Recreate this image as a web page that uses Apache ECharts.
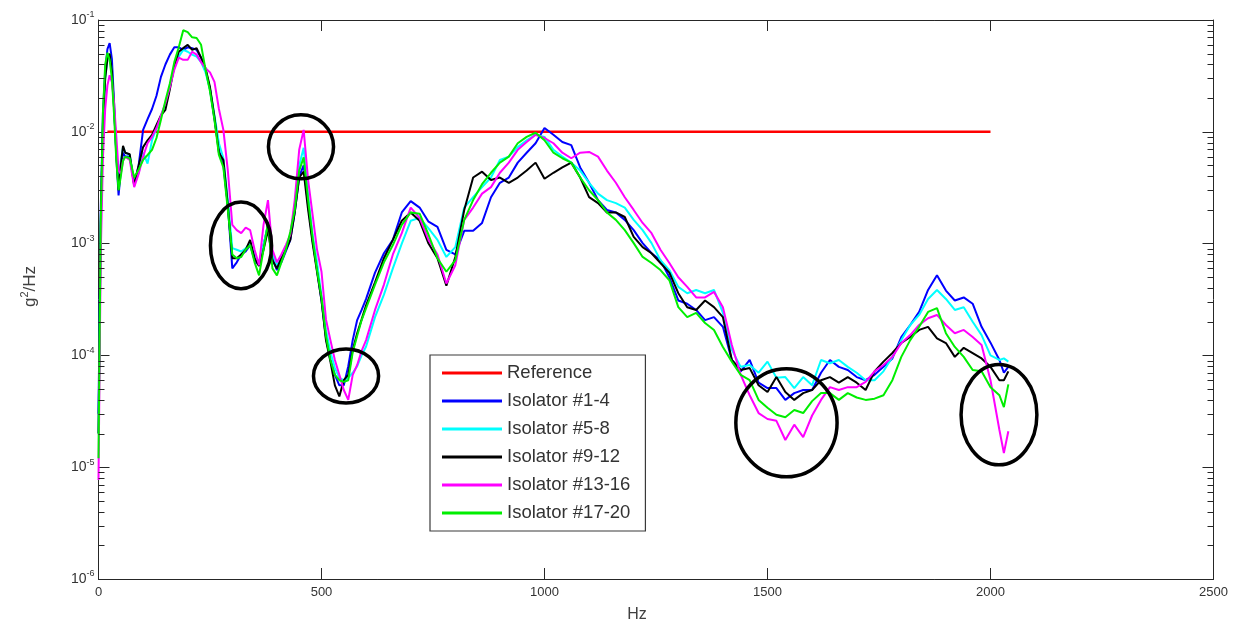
<!DOCTYPE html>
<html>
<head>
<meta charset="utf-8">
<title>Isolator PSD</title>
<script src="https://cdn.jsdelivr.net/npm/echarts@6/dist/echarts.min.js"></script>
<style>
  html, body { margin: 0; padding: 0; background: #ffffff; }
  #chart { width: 1241px; height: 619px; }
</style>
</head>
<body>
<div id="chart"></div>
<script>
// Frequency grid shared by the five isolator measurements (Hz)
const freqHz = [
  0, 5, 10, 15, 20, 25, 30, 35, 40, 45, 50, 55, 60,
  70, 80, 90, 100, 110, 120, 130, 140, 150, 160,
  170, 180, 190, 200, 210, 220, 230, 240, 250, 260,
  270, 280, 290, 300, 310, 320, 330, 340, 350, 360,
  370, 380, 390, 400, 410, 420, 430, 440, 450, 460,
  470, 480, 490, 500, 510, 520, 530, 540, 550, 560,
  570, 580, 590, 600,
  620, 640, 660, 680, 700, 720, 740, 760, 780, 800,
  820, 840, 860, 880, 900, 920, 940, 960, 980, 1000,
  1020, 1040, 1060, 1080, 1100, 1120, 1140, 1160, 1180, 1200,
  1220, 1240, 1260, 1280, 1300, 1320, 1340, 1360, 1380, 1400,
  1420, 1440, 1460, 1480, 1500, 1520, 1540, 1560, 1580, 1600,
  1620, 1640, 1660, 1680, 1700, 1720, 1740, 1760, 1780, 1800,
  1820, 1840, 1860, 1880, 1900, 1920, 1940, 1960, 1980, 2000,
  2020, 2030, 2040
];

// PSD, g^2/Hz
const isolator1to4 = [
  3e-5, 2e-3, 1.5e-2, 3.5e-2, 5.5e-2, 6.2e-2, 4.5e-2, 1.8e-2, 6e-3, 2.7e-3, 4.5e-3, 6.5e-3, 6e-3,
  6.0e-3, 3.4e-3, 5.0e-3, 1.04e-2, 1.3e-2, 1.6e-2, 2.1e-2, 3.1e-2, 4.0e-2, 4.9e-2,
  5.7e-2, 5.7e-2, 5.4e-2, 5.7e-2, 5.6e-2, 5.4e-2, 4.6e-2, 3.6e-2, 2.4e-2, 1.3e-2,
  6.9e-3, 5.0e-3, 2.2e-3, 6.0e-4, 6.8e-4, 8.0e-4, 8.5e-4, 9.7e-4, 7.1e-4, 6.4e-4,
  9.7e-4, 1.47e-3, 7.4e-4, 5.8e-4, 6.8e-4, 8.5e-4, 1.08e-3, 1.9e-3, 4.0e-3, 5.0e-3,
  2.2e-3, 1.08e-3, 5.8e-4, 3.1e-4, 1.44e-4, 9.1e-5, 6.7e-5, 5.4e-5, 5.4e-5, 8.0e-5,
  1.37e-4, 2.07e-4, 2.55e-4, 3.2e-4,
  5.5e-4, 8.2e-4, 1.08e-3, 1.9e-3, 2.4e-3, 2.1e-3, 1.57e-3, 1.41e-3, 8.8e-4, 8.0e-4,
  1.3e-3, 1.3e-3, 1.53e-3, 2.6e-3, 3.5e-3, 3.9e-3, 5.3e-3, 6.5e-3, 7.9e-3, 1.08e-2,
  9.4e-3, 8.1e-3, 7.6e-3, 4.8e-3, 3.5e-3, 2.45e-3, 2.0e-3, 1.9e-3, 1.63e-3, 1.32e-3,
  1.01e-3, 8.2e-4, 7.1e-4, 5.0e-4, 3.1e-4, 2.9e-4, 2.55e-4, 2.07e-4, 2.2e-4, 1.8e-4,
  9.1e-5, 7.2e-5, 9.1e-5, 5.7e-5, 5.1e-5, 5.1e-5, 4.0e-5, 4.6e-5, 4.9e-5, 4.9e-5,
  7.0e-5, 9.1e-5, 7.9e-5, 7.4e-5, 6.4e-5, 6.0e-5, 6.7e-5, 7.9e-5, 9.4e-5, 1.46e-4,
  1.87e-4, 2.45e-4, 3.85e-4, 5.2e-4, 3.8e-4, 3.1e-4, 3.3e-4, 2.9e-4, 1.8e-4, 1.3e-4,
  9.1e-5, 7.0e-5, 7.9e-5
];

const isolator5to8 = [
  2e-5, 1.5e-3, 1.2e-2, 3e-2, 4.5e-2, 5e-2, 3.5e-2, 1.6e-2, 6.5e-3, 3.2e-3, 5.5e-3, 7.3e-3, 6.5e-3,
  6.2e-3, 3.6e-3, 4.3e-3, 6.5e-3, 5.2e-3, 8.4e-3, 1.08e-2, 1.4e-2, 1.75e-2, 2.5e-2,
  3.8e-2, 4.7e-2, 5.4e-2, 5.2e-2, 4.9e-2, 4.7e-2, 4.2e-2, 3.4e-2, 2.4e-2, 1.4e-2,
  7.9e-3, 5.8e-3, 2.45e-3, 9.1e-4, 8.8e-4, 8.5e-4, 9.1e-4, 1.01e-3, 8.0e-4, 6.8e-4,
  9.7e-4, 1.47e-3, 8.0e-4, 6.4e-4, 7.4e-4, 9.1e-4, 1.15e-3, 2.2e-3, 5.0e-3, 7.2e-3,
  2.7e-3, 1.2e-3, 6.8e-4, 3.4e-4, 1.69e-4, 1.07e-4, 7.7e-5, 6.3e-5, 6.0e-5, 6.3e-5,
  7.0e-5, 8.0e-5, 1.0e-4, 1.2e-4,
  2.2e-4, 3.5e-4, 6.0e-4, 1.0e-3, 1.6e-3, 1.7e-3, 1.37e-3, 1.08e-3, 7.6e-4, 9.3e-4,
  2.1e-3, 2.6e-3, 3.2e-3, 3.9e-3, 5.6e-3, 6.0e-3, 7.3e-3, 8.4e-3, 9.4e-3, 9.0e-3,
  6.9e-3, 6.0e-3, 5.3e-3, 4.5e-3, 3.5e-3, 2.8e-3, 2.45e-3, 2.3e-3, 2.1e-3, 1.63e-3,
  1.32e-3, 1.01e-3, 7.1e-4, 5.8e-4, 4.1e-4, 3.6e-4, 3.85e-4, 3.6e-4, 3.85e-4, 2.4e-4,
  1.12e-4, 7.9e-5, 8.2e-5, 7.0e-5, 8.8e-5, 6.3e-5, 6.4e-5, 5.1e-5, 6.4e-5, 5.4e-5,
  9.1e-5, 8.5e-5, 9.1e-5, 7.9e-5, 7.0e-5, 6.0e-5, 6.0e-5, 7.2e-5, 9.7e-5, 1.37e-4,
  1.87e-4, 2.3e-4, 3.2e-4, 3.85e-4, 3.2e-4, 2.55e-4, 2.7e-4, 2.0e-4, 1.52e-4, 1.0e-4,
  9.1e-5, 9.4e-5, 8.8e-5
];

const isolator9to12 = [
  2e-5, 1.5e-3, 1.2e-2, 3e-2, 4.5e-2, 5e-2, 3.5e-2, 1.6e-2, 6.5e-3, 3.0e-3, 5.0e-3, 7.5e-3, 6.5e-3,
  6.3e-3, 3.3e-3, 5.0e-3, 7.3e-3, 8.4e-3, 9.4e-3, 1.15e-2, 1.4e-2, 1.57e-2, 2.4e-2,
  3.9e-2, 5.2e-2, 5.6e-2, 6.0e-2, 5.4e-2, 5.6e-2, 4.6e-2, 3.7e-2, 2.5e-2, 1.35e-2,
  6.5e-3, 5.6e-3, 2.2e-3, 7.4e-4, 7.4e-4, 8.0e-4, 8.8e-4, 1.08e-3, 7.4e-4, 6.3e-4,
  8.8e-4, 1.32e-3, 7.1e-4, 6.0e-4, 7.4e-4, 8.8e-4, 1.08e-3, 1.9e-3, 3.9e-3, 4.4e-3,
  2.0e-3, 1.01e-3, 5.6e-4, 3.1e-4, 1.37e-4, 8.8e-5, 5.4e-5, 4.3e-5, 6.0e-5, 6.7e-5,
  1.12e-4, 1.58e-4, 2.1e-4, 2.8e-4,
  4.5e-4, 7.4e-4, 1.08e-3, 1.6e-3, 1.9e-3, 1.6e-3, 1.0e-3, 7.4e-4, 4.2e-4, 7.6e-4,
  2.0e-3, 3.9e-3, 4.4e-3, 3.7e-3, 3.9e-3, 3.5e-3, 3.9e-3, 4.5e-3, 5.3e-3, 3.8e-3,
  4.3e-3, 4.8e-3, 5.3e-3, 3.9e-3, 2.6e-3, 2.3e-3, 1.9e-3, 1.9e-3, 1.73e-3, 1.15e-3,
  9.3e-4, 8.2e-4, 6.7e-4, 5.5e-4, 3.6e-4, 2.7e-4, 2.55e-4, 3.1e-4, 2.7e-4, 2.2e-4,
  9.1e-5, 7.4e-5, 7.7e-5, 5.4e-5, 4.7e-5, 6.4e-5, 4.7e-5, 4.0e-5, 4.6e-5, 4.9e-5,
  6.0e-5, 6.4e-5, 5.7e-5, 6.4e-5, 5.7e-5, 4.9e-5, 7.2e-5, 8.8e-5, 1.05e-4, 1.29e-4,
  1.46e-4, 1.69e-4, 1.8e-4, 1.42e-4, 1.29e-4, 9.7e-5, 1.17e-4, 1.05e-4, 9.4e-5, 7.9e-5,
  6.0e-5, 6.0e-5, 7.2e-5
];

const isolator13to16 = [
  7.7e-6, 8e-4, 6e-3, 1.6e-2, 2.6e-2, 3.2e-2, 2.8e-2, 1.8e-2, 9e-3, 4.5e-3, 4.2e-3, 5.5e-3, 6e-3,
  5.6e-3, 3.2e-3, 4.2e-3, 6.0e-3, 7.9e-3, 9.0e-3, 1.08e-2, 1.4e-2, 1.8e-2, 2.5e-2,
  3.6e-2, 4.6e-2, 4.4e-2, 4.4e-2, 5.2e-2, 4.9e-2, 4.2e-2, 3.7e-2, 3.4e-2, 2.8e-2,
  1.6e-2, 1.04e-2, 4.5e-3, 1.47e-3, 1.32e-3, 1.24e-3, 1.39e-3, 1.32e-3, 8.8e-4, 6.4e-4,
  1.47e-3, 2.45e-3, 8.8e-4, 6.8e-4, 8.0e-4, 9.7e-4, 1.2e-3, 2.45e-3, 6.9e-3, 1.04e-2,
  3.7e-3, 1.82e-3, 8.8e-4, 5.6e-4, 2.1e-4, 1.37e-4, 9.1e-5, 6.7e-5, 4.9e-5, 4.0e-5,
  6.7e-5, 8.2e-5, 1.1e-4, 1.37e-4,
  2.55e-4, 4.3e-4, 8.0e-4, 1.24e-3, 2.1e-3, 1.7e-3, 1.08e-3, 8.0e-4, 4.4e-4, 6.4e-4,
  1.63e-3, 2.1e-3, 2.8e-3, 3.2e-3, 4.3e-3, 5.3e-3, 6.9e-3, 8.1e-3, 9.4e-3, 8.8e-3,
  7.9e-3, 6.5e-3, 5.8e-3, 6.5e-3, 6.6e-3, 6.0e-3, 4.5e-3, 3.5e-3, 2.6e-3, 2.0e-3,
  1.53e-3, 1.24e-3, 8.8e-4, 6.7e-4, 5.0e-4, 4.1e-4, 3.3e-4, 3.3e-4, 3.7e-4, 2.7e-4,
  1.24e-4, 6.7e-5, 4.4e-5, 3.05e-5, 2.7e-5, 2.6e-5, 1.75e-5, 2.4e-5, 1.86e-5, 2.9e-5,
  4.0e-5, 5.2e-5, 4.9e-5, 5.2e-5, 5.2e-5, 5.8e-5, 7.2e-5, 8.2e-5, 9.7e-5, 1.29e-4,
  1.52e-4, 1.87e-4, 2.15e-4, 2.3e-4, 1.87e-4, 1.58e-4, 1.69e-4, 1.46e-4, 1.24e-4, 6.0e-5,
  2.15e-5, 1.34e-5, 2.1e-5
];

const isolator17to20 = [
  1.2e-5, 1.5e-3, 1.5e-2, 4e-2, 5.1e-2, 4.4e-2, 3e-2, 1.4e-2, 5.5e-3, 3.0e-3, 4.0e-3, 5.5e-3, 6.0e-3,
  5.8e-3, 3.9e-3, 4.6e-3, 5.6e-3, 6.2e-3, 6.9e-3, 8.8e-3, 1.28e-2, 1.9e-2, 2.7e-2,
  4.2e-2, 5.7e-2, 8.1e-2, 7.8e-2, 7.0e-2, 6.9e-2, 6.0e-2, 3.6e-2, 2.3e-2, 1.28e-2,
  6.2e-3, 4.8e-3, 2.0e-3, 8.0e-4, 7.4e-4, 7.6e-4, 8.8e-4, 9.7e-4, 6.8e-4, 5.2e-4,
  8.8e-4, 1.55e-3, 6.0e-4, 5.2e-4, 6.8e-4, 8.8e-4, 1.27e-3, 2.0e-3, 4.5e-3, 5.9e-3,
  2.45e-3, 1.13e-3, 5.8e-4, 3.3e-4, 1.5e-4, 9.1e-5, 6.7e-5, 6.0e-5, 5.8e-5, 6.0e-5,
  1.07e-4, 1.5e-4, 2.07e-4, 2.65e-4,
  4.3e-4, 6.8e-4, 9.7e-4, 1.47e-3, 1.9e-3, 1.85e-3, 1.2e-3, 7.4e-4, 5.6e-4, 7.1e-4,
  1.63e-3, 2.45e-3, 3.4e-3, 4.3e-3, 5.3e-3, 6.0e-3, 7.9e-3, 9.0e-3, 9.8e-3, 8.4e-3,
  6.5e-3, 5.8e-3, 5.3e-3, 3.9e-3, 3.0e-3, 2.45e-3, 1.9e-3, 1.63e-3, 1.32e-3, 1.01e-3,
  7.6e-4, 6.7e-4, 5.8e-4, 4.7e-4, 2.7e-4, 2.2e-4, 2.4e-4, 1.95e-4, 1.69e-4, 1.19e-4,
  8.8e-5, 6.7e-5, 6.0e-5, 4.0e-5, 3.4e-5, 2.95e-5, 2.8e-5, 3.25e-5, 3.05e-5, 3.9e-5,
  4.6e-5, 4.6e-5, 4.0e-5, 4.6e-5, 4.2e-5, 4.0e-5, 4.1e-5, 4.4e-5, 6.0e-5, 9.7e-5,
  1.37e-4, 1.8e-4, 2.45e-4, 2.65e-4, 1.58e-4, 1.19e-4, 9.7e-5, 7.4e-5, 7.2e-5, 5.2e-5,
  4.4e-5, 3.45e-5, 5.5e-5
];

// Reference level (flat 0.01 g^2/Hz, 20-2000 Hz)
const referenceHz = [20, 2000];
const referenceLevel = [0.01, 0.01];

// Highlighted regions: frequency span and PSD span of each ring
const ringHzFrom = [251, 381, 482, 1429, 1934];
const ringHzTo   = [388, 527, 628, 1656, 2104];
const ringTop    = [2.35e-3, 1.42e-2, 1.14e-4, 7.6e-5, 8.3e-5];
const ringBottom = [3.95e-4, 3.8e-3, 3.75e-5, 8.2e-6, 1.05e-5];

// Log-axis decades and the minor tick mantissas inside each decade
const decadeStarts = [1e-6, 1e-5, 1e-4, 1e-3, 1e-2];
const minorMantissas = [2, 3, 4, 5, 6, 7, 8, 9];

const seriesNames = ['Reference', 'Isolator #1-4', 'Isolator #5-8', 'Isolator #9-12', 'Isolator #13-16', 'Isolator #17-20'];
const seriesColors = ['#ff0000', '#0000ff', '#00ffff', '#000000', '#ff00ff', '#00ee00'];

const FONT = '"Liberation Sans", Arial, Helvetica, sans-serif';
const AXIS_COLOR = '#262626';
const LABEL_COLOR = '#333333';
const MINOR_TICK_LEN = 6;

function pairs(xs, ys) {
  return xs.map((x, i) => [x, ys[i]]);
}

const isolatorData = [isolator1to4, isolator5to8, isolator9to12, isolator13to16, isolator17to20];

// minor tick values (2..9 x 10^n) on the PSD axis
const minorTickValues = [];
decadeStarts.forEach(d => minorMantissas.forEach(m => minorTickValues.push(m * d)));

const chart = echarts.init(document.getElementById('chart'), null, { renderer: 'canvas' });

const lineSeries = [
  {
    name: seriesNames[0],
    type: 'line',
    data: pairs(referenceHz, referenceLevel),
    symbol: 'none',
    lineStyle: { color: seriesColors[0], width: 2.5 },
    itemStyle: { color: seriesColors[0] },
    z: 2
  }
].concat(isolatorData.map((vals, k) => ({
  name: seriesNames[k + 1],
  type: 'line',
  data: pairs(freqHz, vals),
  symbol: 'none',
  lineStyle: { color: seriesColors[k + 1], width: 2 },
  itemStyle: { color: seriesColors[k + 1] },
  z: 3
})));

const ringSeries = {
  type: 'custom',
  name: 'rings',
  coordinateSystem: 'cartesian2d',
  silent: true,
  z: 6,
  encode: { x: [0, 1], y: [2, 3] },
  data: ringHzFrom.map((f, i) => [f, ringHzTo[i], ringTop[i], ringBottom[i]]),
  renderItem: function (params, api) {
    const a = api.coord([api.value(0), api.value(2)]);
    const b = api.coord([api.value(1), api.value(3)]);
    return {
      type: 'ellipse',
      shape: {
        cx: (a[0] + b[0]) / 2,
        cy: (a[1] + b[1]) / 2,
        rx: Math.abs(b[0] - a[0]) / 2,
        ry: Math.abs(b[1] - a[1]) / 2
      },
      style: { fill: 'none', stroke: '#000000', lineWidth: 3.5 }
    };
  }
};

// Minor ticks of the log PSD axis, on both the left and right frame edges
const minorTickSeries = {
  type: 'custom',
  name: 'minorTicks',
  coordinateSystem: 'cartesian2d',
  silent: true,
  z: 7,
  encode: { x: 0, y: 1 },
  data: minorTickValues.map(v => [0, v]),
  renderItem: function (params, api) {
    const cs = params.coordSys;
    const y = Math.round(api.coord([0, api.value(1)])[1]) + 0.5;
    const left = cs.x;
    const right = cs.x + cs.width;
    return {
      type: 'group',
      children: [
        { type: 'line', shape: { x1: left, y1: y, x2: left + MINOR_TICK_LEN, y2: y }, style: { stroke: AXIS_COLOR, lineWidth: 1 } },
        { type: 'line', shape: { x1: right - MINOR_TICK_LEN, y1: y, x2: right, y2: y }, style: { stroke: AXIS_COLOR, lineWidth: 1 } }
      ]
    };
  }
};

const yLabelRich = {
  b: { fontSize: 14, color: LABEL_COLOR, fontFamily: FONT },
  s: { fontSize: 9, color: LABEL_COLOR, fontFamily: FONT, padding: [0, 0, 10, 0] }
};

const logAxisBase = {
  type: 'log',
  logBase: 10,
  min: 1e-6,
  max: 1e-1,
  splitLine: { show: false },
  axisLine: { show: true, onZero: false, lineStyle: { color: AXIS_COLOR, width: 1 } },
  axisTick: { show: true, inside: true, length: 11, lineStyle: { color: AXIS_COLOR } },
  minorTick: { show: false }
};

const option = {
  backgroundColor: '#ffffff',
  animation: false,
  grid: { left: 98.5, right: 27.5, top: 20, bottom: 40, containLabel: false, outerBoundsMode: 'none' },
  legend: {
    data: seriesNames,
    orient: 'vertical',
    left: 430,
    top: 355,
    padding: [8, 15, 8, 12],
    itemWidth: 60,
    itemHeight: 14,
    itemGap: 8,
    icon: 'path://M0,0H60V3H0Z',
    backgroundColor: '#ffffff',
    borderColor: '#3a3a3a',
    borderWidth: 1.2,
    textStyle: { fontFamily: FONT, fontSize: 18.5, color: LABEL_COLOR, lineHeight: 20 },
    selectedMode: false
  },
  xAxis: [
    {
      type: 'value',
      min: 0,
      max: 2500,
      interval: 500,
      position: 'bottom',
      name: 'Hz',
      nameLocation: 'middle',
      nameGap: 28,
      nameTextStyle: { fontFamily: FONT, fontSize: 16, color: '#404040', padding: [0, 38, 0, 0] },
      splitLine: { show: false },
      axisLine: { show: true, onZero: false, lineStyle: { color: AXIS_COLOR, width: 1 } },
      axisTick: { show: true, inside: true, length: 11, lineStyle: { color: AXIS_COLOR } },
      axisLabel: {
        fontFamily: FONT, fontSize: 13, color: LABEL_COLOR, margin: 7,
        formatter: function (v) { return String(v); }
      }
    },
    {
      type: 'value',
      min: 0,
      max: 2500,
      interval: 500,
      position: 'top',
      splitLine: { show: false },
      axisLine: { show: true, onZero: false, lineStyle: { color: AXIS_COLOR, width: 1 } },
      axisTick: { show: true, inside: true, length: 11, lineStyle: { color: AXIS_COLOR } },
      axisLabel: { show: false }
    }
  ],
  yAxis: [
    Object.assign({}, logAxisBase, {
      position: 'left',
      name: '{g|g}{sup|2}{g|/Hz}',
      nameLocation: 'middle',
      nameGap: 58,
      nameRotate: 90,
      nameTextStyle: {
        padding: [0, 0, 0, 26],
        rich: {
          g: { fontFamily: FONT, fontSize: 17, color: '#404040' },
          sup: { fontFamily: FONT, fontSize: 11, color: '#404040', padding: [0, 0, 10, 0] }
        }
      },
      axisLabel: {
        margin: 4,
        formatter: function (v) {
          return '{b|10}{s|' + Math.round(Math.log10(v)) + '}';
        },
        rich: yLabelRich
      }
    }),
    Object.assign({}, logAxisBase, {
      position: 'right',
      axisLabel: { show: false }
    })
  ],
  series: lineSeries.concat([ringSeries, minorTickSeries])
};

chart.setOption(option);
</script>
</body>
</html>
